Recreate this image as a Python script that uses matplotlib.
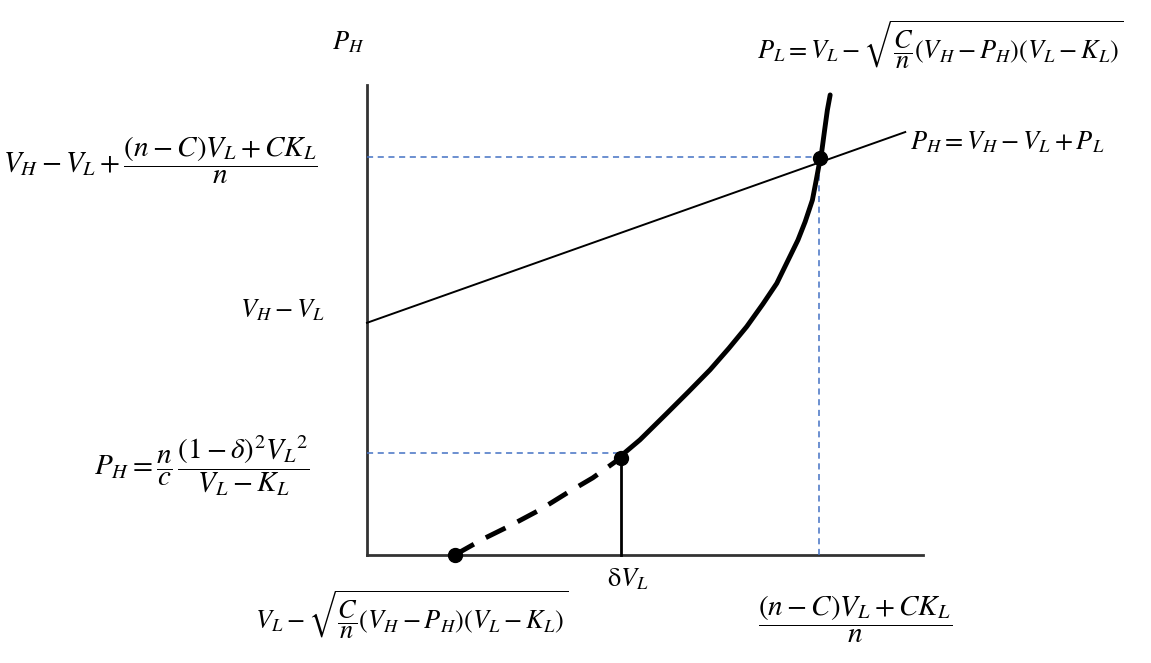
import matplotlib
matplotlib.use("Agg")
from matplotlib import pyplot as plt

plt.rcParams['mathtext.fontset'] = 'stix'
plt.rcParams['font.family'] = 'STIXGeneral'

# axis extents (abstract units, origin at the corner of the axes)
x_axis_end = 10.0
y_axis_end = 10.0

# demand line P_H = V_H - V_L + P_L
line_x = [0.0, 9.68]
line_y = [4.94, 9.00]

# solid part of the curve, from the delta*V_L point upwards
curve_x = [4.55, 4.91, 5.39, 5.78, 6.17, 6.51, 6.83, 7.12, 7.37, 7.75,
           7.88, 8.01, 8.08, 8.13, 8.17, 8.23, 8.28, 8.33]
curve_y = [2.09, 2.45, 3.01, 3.47, 3.94, 4.40, 4.86, 5.34, 5.78, 6.70,
           7.09, 7.55, 7.98, 8.30, 8.51, 9.04, 9.47, 9.79]

# dashed part of the curve, down to the horizontal axis
dash_x = [1.58, 2.09, 2.57, 3.11, 3.60, 4.06, 4.51]
dash_y = [0.0, 0.34, 0.62, 0.96, 1.32, 1.64, 2.02]

# marked points
low_point = (1.58, 0.0)
delta_point = (4.57, 2.06)
cross_point = (8.15, 8.45)

# reference levels for the blue guides
delta_level = 2.17
cross_level = 8.47
cross_x = 8.13

fig = plt.figure(figsize=(11.51, 6.63), dpi=100)
ax = fig.add_axes([0, 0, 1, 1])
ax.set_xlim(-6.60, 14.10)
ax.set_ylim(-2.30, 11.81)
ax.axis('off')

axis_color = '#333333'
guide_color = '#4472c4'

ax.plot([0, 0], [0, y_axis_end], color=axis_color, lw=2)
ax.plot([0, x_axis_end], [0, 0], color=axis_color, lw=2)

ax.plot([0, delta_point[0]], [delta_level, delta_level], color=guide_color, lw=1.1, dashes=(4, 3))
ax.plot([0, cross_point[0]], [cross_level, cross_level], color=guide_color, lw=1.1, dashes=(4, 3))
ax.plot([cross_x, cross_x], [0, cross_level], color=guide_color, lw=1.1, dashes=(4, 3))

ax.plot(line_x, line_y, color='black', lw=1.4)
ax.plot(curve_x, curve_y, color='black', lw=3.5, solid_capstyle='round', solid_joinstyle='round')
ax.plot(dash_x, dash_y, color='black', lw=3.5, dashes=(4.5, 2.8))
ax.plot([delta_point[0], delta_point[0]], [0, delta_point[1]], color='black', lw=2)

for pt in (low_point, delta_point, cross_point):
    ax.plot(pt[0], pt[1], 'o', color='black', ms=10)

fs = 19
fs_frac = 21
ax.text(-0.34, 10.91, r'$P_H$', fontsize=fs, ha='center', va='center')
ax.text(7.01, 10.85, r'$P_L = V_L - \sqrt{\dfrac{C}{n}(V_H - P_H)(V_L - K_L)}$',
        fontsize=fs, ha='left', va='center')
ax.text(9.77, 8.77, r'$P_H = V_H - V_L + P_L$', fontsize=fs, ha='left', va='center')
ax.text(-0.88, 8.40, r'$V_H - V_L + \dfrac{(n - C)V_L + CK_L}{n}$', fontsize=fs_frac,
        ha='right', va='center')
ax.text(-0.76, 5.21, r'$V_H - V_L$', fontsize=fs, ha='right', va='center')
ax.text(-1.03, 1.91, r'$P_H = \dfrac{n}{c}\,\dfrac{(1 - \delta)^2{V_L}^2}{V_L - K_L}$',
        fontsize=fs_frac, ha='right', va='center')
ax.text(-2.01, -1.28, r'$V_L - \sqrt{\dfrac{C}{n}(V_H - P_H)(V_L - K_L)}$',
        fontsize=fs, ha='left', va='center')
ax.text(4.69, -0.53, r'$\mathrm{\delta}V_L$', fontsize=fs, ha='center', va='center')
ax.text(8.78, -1.38, r'$\dfrac{(n - C)V_L + CK_L}{n}$', fontsize=fs_frac, ha='center', va='center')

fig.savefig('out.png', dpi=100)
